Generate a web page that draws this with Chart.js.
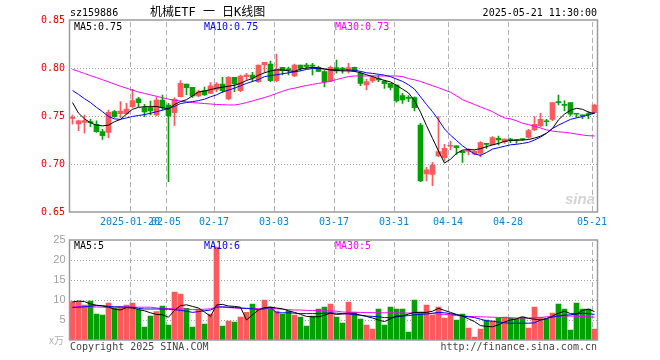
<!DOCTYPE html>
<html><head><meta charset="utf-8">
<script src="https://cdn.jsdelivr.net/npm/chart.js@4.4.1/dist/chart.umd.min.js"></script>
<style>
html,body{margin:0;padding:0;background:#fff;}
#wrap{position:relative;width:660px;height:360px;overflow:hidden;background:#fff;}
canvas{position:absolute;left:0;top:0;}
.t{position:absolute;font-family:"DejaVu Sans Mono",monospace;font-size:10px;line-height:12px;height:12px;white-space:nowrap;}
</style></head><body>
<div id="wrap">
<canvas id="price" width="660" height="360"></canvas>
<canvas id="vol" width="660" height="360"></canvas>
<div class="t" style="left:70px;top:7px;color:#000">sz159886</div>
<div class="t" style="left:150px;top:5px;font-size:12px;line-height:14px;height:14px;font-family:'DejaVu Sans Mono','Noto Sans CJK SC',monospace;color:#000">机械ETF 一 日K线图</div>
<div class="t" style="right:63px;top:7px;color:#000">2025-05-21 11:30:00</div>
<div class="t" style="left:74px;top:21px;color:#000">MA5:0.75</div>
<div class="t" style="left:204px;top:21px;color:#0000ff">MA10:0.75</div>
<div class="t" style="left:335px;top:21px;color:#ff00ff">MA30:0.73</div>
<div class="t" style="left:74px;top:240px;color:#000">MA5:5</div>
<div class="t" style="left:204px;top:240px;color:#0000ff">MA10:6</div>
<div class="t" style="left:335px;top:240px;color:#ff00ff">MA30:5</div>
<div class="t" style="left:49px;top:334px;color:#b0b0b0;font-family:'Noto Sans CJK SC',sans-serif">x万</div>
<div class="t" style="left:70px;top:341px;color:#444">Copyright 2025 SINA.COM</div>
<div class="t" style="right:63px;top:341px;color:#444">http://finance.sina.com.cn</div>
<div class="t" style="left:565px;top:191px;font-family:'Liberation Sans',sans-serif;font-size:15px;line-height:16px;height:16px;font-weight:bold;font-style:italic;color:#d4d4d4">sina</div>
</div>
<script>
const dates = [
'2025-01-06','2025-01-07','2025-01-08','2025-01-09','2025-01-10','2025-01-13','2025-01-14','2025-01-15','2025-01-16','2025-01-17',
'2025-01-20','2025-01-21','2025-01-22','2025-01-23','2025-01-24','2025-01-27','2025-02-05','2025-02-06','2025-02-07','2025-02-10',
'2025-02-11','2025-02-12','2025-02-13','2025-02-14','2025-02-17','2025-02-18','2025-02-19','2025-02-20','2025-02-21','2025-02-24',
'2025-02-25','2025-02-26','2025-02-27','2025-02-28','2025-03-03','2025-03-04','2025-03-05','2025-03-06','2025-03-07','2025-03-10',
'2025-03-11','2025-03-12','2025-03-13','2025-03-14','2025-03-17','2025-03-18','2025-03-19','2025-03-20','2025-03-21','2025-03-24',
'2025-03-25','2025-03-26','2025-03-27','2025-03-28','2025-03-31','2025-04-01','2025-04-02','2025-04-03','2025-04-07','2025-04-08',
'2025-04-09','2025-04-10','2025-04-11','2025-04-14','2025-04-15','2025-04-16','2025-04-17','2025-04-18','2025-04-21','2025-04-22',
'2025-04-23','2025-04-24','2025-04-25','2025-04-28','2025-04-29','2025-04-30','2025-05-06','2025-05-07','2025-05-08','2025-05-09',
'2025-05-12','2025-05-13','2025-05-14','2025-05-15','2025-05-16','2025-05-19','2025-05-20','2025-05-21'];

const open = [
0.7476,0.7417,0.7434,0.7441,0.7413,0.7337,0.7330,0.7545,0.7524,0.7524,
0.7597,0.7680,0.7587,0.7587,0.7510,0.7667,0.7615,0.7535,0.7701,0.7833,
0.7799,0.7708,0.7764,0.7736,0.7778,0.7833,0.7677,0.7903,0.7764,0.7910,
0.7927,0.7858,0.8031,0.8042,0.7868,0.8007,0.7990,0.7917,0.8031,0.8031,
0.8030,0.8007,0.7962,0.7865,0.8004,0.8000,0.7979,0.8007,0.7945,0.7823,
0.7865,0.7890,0.7865,0.7840,0.7823,0.7712,0.7690,0.7691,0.7406,0.6896,
0.6892,0.7083,0.7066,0.7185,0.7188,0.7135,0.7130,0.7104,0.7111,0.7215,
0.7198,0.7267,0.7233,0.7252,0.7250,0.7258,0.7278,0.7354,0.7396,0.7445,
0.7465,0.7643,0.7618,0.7639,0.7522,0.7507,0.7520,0.7535];
const high = [
0.7510,0.7458,0.7510,0.7465,0.7450,0.7362,0.7562,0.7560,0.7649,0.7632,
0.7778,0.7694,0.7622,0.7656,0.7694,0.7719,0.7632,0.7691,0.7868,0.7833,
0.7799,0.7771,0.7800,0.7847,0.7849,0.7903,0.7910,0.7903,0.7927,0.7944,
0.7955,0.8031,0.8060,0.8073,0.8146,0.8007,0.8010,0.8042,0.8031,0.8049,
0.8049,0.8020,0.7972,0.8020,0.8083,0.8007,0.8049,0.8010,0.7962,0.7885,
0.7920,0.7927,0.7875,0.7840,0.7823,0.7736,0.7712,0.7700,0.7423,0.6966,
0.7017,0.7493,0.7205,0.7240,0.7188,0.7135,0.7161,0.7140,0.7233,0.7215,
0.7285,0.7292,0.7260,0.7267,0.7257,0.7258,0.7361,0.7493,0.7528,0.7465,
0.7640,0.7719,0.7660,0.7639,0.7528,0.7510,0.7545,0.7625];
const low = [
0.7415,0.7347,0.7320,0.7389,0.7330,0.7255,0.7274,0.7486,0.7483,0.7510,
0.7587,0.7597,0.7493,0.7510,0.7500,0.7563,0.6816,0.7399,0.7700,0.7722,
0.7694,0.7700,0.7715,0.7733,0.7753,0.7743,0.7667,0.7753,0.7753,0.7875,
0.7858,0.7850,0.7955,0.7858,0.7858,0.7927,0.7927,0.7910,0.7972,0.7989,
0.7927,0.7962,0.7803,0.7858,0.7945,0.7945,0.7945,0.7962,0.7816,0.7771,
0.7851,0.7858,0.7788,0.7771,0.7643,0.7632,0.7650,0.7552,0.6816,0.6823,
0.6774,0.7076,0.7031,0.7146,0.7101,0.7017,0.7094,0.7094,0.7076,0.7161,
0.7198,0.7198,0.7215,0.7222,0.7215,0.7242,0.7267,0.7347,0.7389,0.7396,
0.7451,0.7615,0.7555,0.7500,0.7486,0.7472,0.7472,0.7528];
const close = [
0.7478,0.7450,0.7451,0.7430,0.7337,0.7295,0.7539,0.7493,0.7552,0.7573,
0.7660,0.7639,0.7542,0.7552,0.7667,0.7587,0.7500,0.7674,0.7840,0.7795,
0.7708,0.7753,0.7719,0.7813,0.7833,0.7764,0.7903,0.7833,0.7917,0.7927,
0.7893,0.8031,0.8059,0.7868,0.7986,0.7972,0.7980,0.8031,0.7996,0.8017,
0.8020,0.7965,0.7858,0.8007,0.7969,0.7990,0.8004,0.7969,0.7840,0.7858,
0.7899,0.7875,0.7837,0.7799,0.7656,0.7667,0.7684,0.7587,0.6823,0.6938,
0.6990,0.7129,0.7163,0.7188,0.7170,0.7118,0.7135,0.7135,0.7222,0.7205,
0.7274,0.7250,0.7260,0.7248,0.7245,0.7255,0.7347,0.7413,0.7465,0.7440,
0.7639,0.7639,0.7611,0.7518,0.7518,0.7503,0.7515,0.7615];

const ma5 = [
0.764,0.753,0.747,0.743,0.7405,0.7397,0.7405,0.744,0.7465,0.752,
0.757,0.759,0.7597,0.7597,0.760,0.7585,0.7573,0.762,0.765,0.767,
0.771,0.775,0.776,0.7775,0.779,0.780,0.781,0.782,0.784,0.787,
0.789,0.7925,0.795,0.797,0.798,0.798,0.797,0.7965,0.799,0.800,
0.8007,0.800,0.799,0.798,0.7975,0.797,0.797,0.7965,0.795,0.793,
0.791,0.789,0.787,0.7855,0.782,0.778,0.774,0.766,0.754,0.740,
0.7267,0.7135,0.701,0.705,0.711,0.7145,0.715,0.7148,0.716,0.718,
0.720,0.7215,0.7235,0.7245,0.7248,0.725,0.7255,0.727,0.729,0.732,
0.737,0.746,0.752,0.756,0.758,0.757,0.754,0.7525];
const ma10 = [
0.7765,0.7725,0.768,0.764,0.759,0.7545,0.7495,0.747,0.7465,0.748,
0.7495,0.7505,0.7515,0.7528,0.7545,0.756,0.758,0.760,0.763,0.764,
0.765,0.766,0.7675,0.770,0.772,0.775,0.777,0.779,0.7815,0.784,
0.786,0.788,0.791,0.792,0.793,0.794,0.795,0.796,0.797,0.7985,
0.7995,0.7995,0.799,0.798,0.798,0.798,0.798,0.7975,0.7965,0.795,
0.7944,0.7935,0.7925,0.791,0.7885,0.786,0.7825,0.778,0.770,0.762,
0.7545,0.746,0.7365,0.730,0.7245,0.719,0.7145,0.7105,0.709,0.712,
0.7155,0.717,0.7185,0.720,0.7205,0.7215,0.7225,0.725,0.728,0.732,
0.737,0.7405,0.7435,0.7465,0.748,0.7495,0.751,0.7535];
const ma30 = [
0.7986,0.7965,0.7943,0.792,0.790,0.7878,0.7855,0.7833,0.781,0.779,
0.777,0.775,0.7735,0.772,0.7705,0.769,0.7675,0.7665,0.7655,0.7648,
0.764,0.7635,0.763,0.7625,0.762,0.7618,0.7615,0.7615,0.7625,0.764,
0.7657,0.7675,0.7692,0.7712,0.7735,0.7757,0.7778,0.779,0.7805,0.7818,
0.7829,0.784,0.785,0.7862,0.788,0.7895,0.791,0.7917,0.7917,0.7917,
0.7917,0.7917,0.7917,0.7917,0.7917,0.791,0.789,0.7877,0.786,0.7838,
0.7816,0.7795,0.777,0.7748,0.771,0.767,0.7645,0.762,0.7595,0.757,
0.7545,0.751,0.748,0.747,0.745,0.7425,0.741,0.7395,0.7375,0.7355,
0.7343,0.7335,0.733,0.7322,0.7312,0.7302,0.7295,0.7292];

const volume = [
9.6,9.6,8.75,9.75,6.5,6.25,9.25,7.9,8.25,8.75,
9.25,7.5,3.25,6.0,7.1,8.5,3.75,12.0,11.5,7.9,
3.25,7.75,4.0,6.5,23.2,3.5,4.75,4.5,5.75,6.9,
9.0,7.5,10.0,8.25,7.25,6.5,7.25,6.25,5.75,3.5,
6.0,7.75,8.25,9.0,5.75,4.25,9.5,7.0,5.25,3.75,
2.75,7.75,3.75,8.25,7.75,7.75,2.0,10.0,7.0,8.75,
6.25,8.25,5.5,6.5,5.0,6.5,3.0,0.75,2.75,5.0,
4.75,5.5,5.75,5.5,5.25,5.75,3.0,8.25,5.75,5.25,
6.75,9.0,7.75,2.5,9.25,7.75,7.75,2.75];
const volMa5 = [
9.5,9.75,9.6,9.0,8.7,8.5,8.2,7.7,7.5,8.1,
8.0,7.6,7.3,6.8,6.4,6.3,5.7,7.4,8.6,8.8,
8.4,8.0,7.0,5.9,8.75,8.9,8.5,8.4,8.2,5.0,
6.3,7.5,8.1,8.2,8.0,7.8,7.3,6.9,6.4,5.9,
5.8,5.8,6.2,6.7,6.4,6.5,6.7,6.6,6.2,5.9,
5.5,5.0,4.6,5.3,6.0,6.0,6.5,6.9,6.9,6.9,
7.2,7.9,7.4,6.9,6.4,6.0,5.3,4.6,3.6,3.4,
3.3,3.8,4.5,5.0,5.3,5.8,5.4,5.2,5.0,5.3,
6.0,6.7,7.2,6.6,6.5,7.4,7.7,7.1];
const volMa10 = [
8.1,8.2,8.3,8.5,8.6,8.6,8.4,8.3,8.3,8.2,
8.2,7.9,7.75,7.75,7.75,7.75,7.7,7.6,7.4,7.2,
6.9,7.1,7.3,7.5,8.2,8.3,8.2,8.1,8.0,7.9,
7.8,7.6,7.8,8.2,6.8,6.8,6.8,6.7,6.6,6.6,
6.6,6.6,6.7,6.8,6.7,6.6,6.5,6.3,6.2,6.0,
5.9,5.8,5.6,5.6,5.8,6.0,6.1,6.3,6.4,6.5,
6.7,6.9,6.8,6.6,6.3,6.0,5.8,5.6,5.2,4.8,
4.7,4.5,4.3,4.2,4.2,4.2,4.2,4.3,5.0,5.4,
5.7,6.0,6.2,6.3,6.5,6.7,6.6,6.4];
const volMa30 = [
8.3,8.3,8.3,8.25,8.25,8.2,8.2,8.2,8.2,8.2,
8.2,8.2,8.2,8.2,8.0,7.9,7.85,7.8,7.75,7.7,
7.6,7.6,7.7,7.8,8.3,8.2,8.1,8.0,7.95,7.9,
7.9,7.9,7.9,7.9,7.8,7.7,7.6,7.5,7.5,7.4,
7.4,7.35,7.3,7.25,7.2,7.0,6.95,6.9,6.9,6.85,
6.85,6.8,6.8,6.8,6.8,6.75,6.75,6.7,6.7,6.65,
6.6,6.5,6.4,6.3,6.1,6.0,5.9,5.85,5.8,5.75,
5.7,5.65,5.6,5.55,5.5,5.5,5.5,5.55,5.6,5.8,
5.9,5.95,6.0,6.0,5.9,5.85,5.8,5.7];

const tickDates = ['2025-01-20','2025-02-05','2025-02-17','2025-03-03','2025-03-17','2025-03-31','2025-04-14','2025-04-28','2025-05-21'];
const tickTexts = ['2025-01-20','02-05','02-17','03-03','03-17','03-31','04-14','04-28','05-21'];
const priceTicks = [0.65,0.70,0.75,0.80,0.85];
const volTicks = [0,5,10,15,20,25];

const UP = '#ff5a5a', DOWN = '#00a000';
const candleColors = dates.map((d,i)=> close[i] >= open[i] ? UP : DOWN);
const tickIdx = tickDates.map(d => dates.indexOf(d));
const MONO = 'DejaVu Sans Mono';

function drawGrid(chart, hVals){
  const ctx = chart.ctx, a = chart.chartArea, x = chart.scales.x, y = chart.scales.y;
  if (!a || !x || !y) return;
  ctx.save();
  const L = Math.round(a.left), R = Math.round(a.right), T = Math.round(a.top), B = Math.round(a.bottom);
  ctx.fillStyle = '#a0a0a0';
  for (const v of hVals){
    const py = Math.round(y.getPixelForValue(v));
    for (let px = L + 1; px < R; px += 3) ctx.fillRect(px, py, 1, 1);
  }
  ctx.fillStyle = '#b0b0b0';
  for (const i of tickIdx){
    const px = Math.round(x.getPixelForValue(i) - 2.5);
    for (let py = T + 2; py < B; py += 8) ctx.fillRect(px, py, 1, Math.min(5, B - py));
  }
  ctx.restore();
}
function gridPlugin(name, hVals){
  return {
    id: name,
    beforeDatasetsDraw(chart){ drawGrid(chart, hVals); },
    afterDraw(chart){
      const ctx = chart.ctx, a = chart.chartArea;
      ctx.save();
      ctx.strokeStyle = '#9a9a9a';
      ctx.lineWidth = 1.5;
      ctx.strokeRect(a.left, a.top, a.right - a.left, a.bottom - a.top);
      ctx.restore();
    }
  };
}

const lineDs = (label, data, color) => ({type:'line', label, data, borderColor:color, backgroundColor:color, fill:false, borderWidth:1, pointRadius:0, tension:0, order:0});

new Chart(document.getElementById('price'), {
  type:'bar',
  data:{
    labels: dates,
    datasets:[
      lineDs('MA5', ma5, '#000000'),
      lineDs('MA10', ma10, '#0000ff'),
      lineDs('MA30', ma30, '#ff00ff'),
      {type:'bar', label:'body', data: dates.map((d,i)=>[Math.min(open[i],close[i]), Math.max(open[i],close[i])]),
        backgroundColor: candleColors, barThickness:5, grouped:false, minBarLength:1, order:1},
      {type:'bar', label:'wick', data: dates.map((d,i)=>[low[i], high[i]]),
        backgroundColor: candleColors, barThickness:1, grouped:false, order:2}
    ]
  },
  options:{
    responsive:false, animation:false,
    layout:{padding:{left:0, top:20, right:62.5, bottom:132}},
    plugins:{legend:{display:false}, tooltip:{enabled:false}},
    scales:{
      x:{offset:true, grid:{display:false, drawTicks:false}, border:{display:false},
        ticks:{autoSkip:false, maxRotation:0, minRotation:0, padding:4, labelOffset:-2.5,
          color:'#0a84d0', font:{family:MONO, size:10},
          callback:(v,i)=>{ const k = tickDates.indexOf(dates[i]); return k>=0 ? tickTexts[k] : ''; }},
        afterFit:s=>{ s.height = 16; }},
      y:{min:priceTicks[0], max:priceTicks[priceTicks.length-1],
        grid:{display:false, drawTicks:false}, border:{display:false},
        afterBuildTicks:s=>{ s.ticks = priceTicks.map(v=>({value:v})); },
        ticks:{padding:4.5, color:'#e00000', font:{family:MONO, size:10}, callback:v=>Number(v).toFixed(2)},
        afterFit:s=>{ s.width = 69.5; }}
    }
  },
  plugins:[gridPlugin('pgrid', [0.70,0.75,0.80])]
});

new Chart(document.getElementById('vol'), {
  type:'bar',
  data:{
    labels: dates,
    datasets:[
      lineDs('MA5', volMa5, '#000000'),
      lineDs('MA10', volMa10, '#0000ff'),
      lineDs('MA30', volMa30, '#ff00ff'),
      {type:'bar', label:'vol', data: volume, backgroundColor: candleColors, barThickness:5, grouped:false, order:1}
    ]
  },
  options:{
    responsive:false, animation:false,
    layout:{padding:{left:0, top:240, right:62.5, bottom:20}},
    plugins:{legend:{display:false}, tooltip:{enabled:false}},
    scales:{
      x:{display:false, offset:true},
      y:{min:volTicks[0], max:volTicks[volTicks.length-1],
        grid:{display:false, drawTicks:false}, border:{display:false},
        afterBuildTicks:s=>{ s.ticks = volTicks.map(v=>({value:v})); },
        ticks:{padding:4, color:'#a0a0a0', font:{family:'Liberation Sans', size:11}, callback:v=> v===0 ? '' : String(v)},
        afterFit:s=>{ s.width = 69.5; }}
    }
  },
  plugins:[gridPlugin('vgrid', [5,10,15,20])]
});
</script>
</body></html>
